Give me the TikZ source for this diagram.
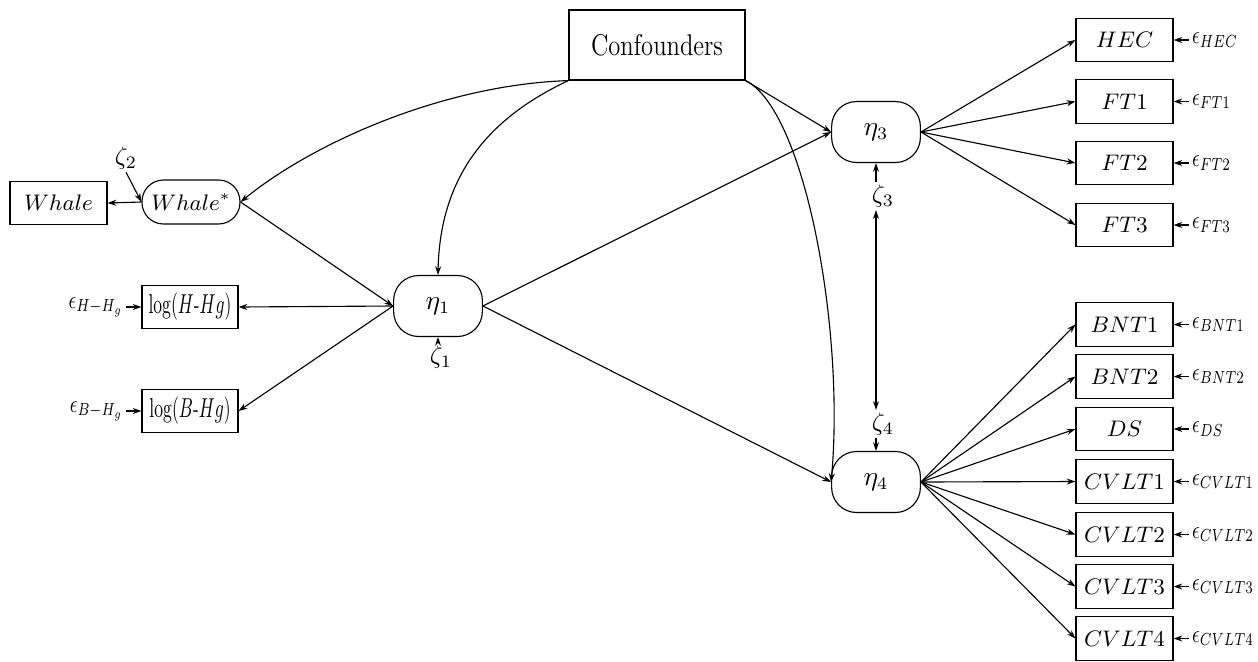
\documentclass[tikz,border=0pt]{standalone}
\usepackage{graphicx}
\usetikzlibrary{arrows.meta}
\newcommand{\sqz}[1]{\scalebox{0.76}[1]{#1}}
\begin{document}
\begin{tikzpicture}[x=0.4pt,y=-0.4pt,
  line width=0.45pt,
  arr/.style={-{Stealth[length=3.5pt,width=2.4pt]}},
  darr/.style={{Stealth[length=3.5pt,width=2.4pt]}-{Stealth[length=3.5pt,width=2.4pt]}},
  obs/.style={draw, minimum width=38.8pt, minimum height=17.4pt, inner sep=0pt, font=\fontsize{9}{10}\selectfont},
  lat/.style={draw, rounded corners=10pt, minimum width=35.5pt, minimum height=24.4pt, inner sep=0pt, font=\fontsize{10.5}{12}\selectfont},
  err/.style={inner sep=1pt, font=\fontsize{10}{12}\selectfont},
  zl/.style={inner sep=1pt, font=\fontsize{10}{12}\selectfont}]
\useasboundingbox (0,0) rectangle (1258,661);

% nodes
\node[draw, minimum width=70.4pt, minimum height=28pt, inner sep=0pt, font=\fontsize{12}{14}\selectfont] (conf) at (657,45) {\scalebox{0.82}[1]{Confounders}};
\node[obs] (whale) at (58.5,203) {$Whale$};
\node[draw, rounded corners=8.6pt, minimum width=39.2pt, minimum height=17.6pt, inner sep=0pt, font=\fontsize{9}{10}\selectfont] (whalestar) at (191,202) {$Whale^{*}$};
\node[obs, minimum width=38.4pt, minimum height=17.2pt, font=\fontsize{11}{12}\selectfont] (logH) at (190,307) {\scalebox{0.64}[1]{$\log(H\mbox{-}Hg)$}};
\node[obs, minimum width=38.4pt, minimum height=17.2pt, font=\fontsize{11}{12}\selectfont] (logB) at (190,411) {\scalebox{0.64}[1]{$\log(B\mbox{-}Hg)$}};
\node[lat] (eta1) at (438,306) {$\eta_1$};
\node[lat] (eta3) at (876,132) {$\eta_3$};
\node[lat] (eta4) at (876,482) {$\eta_4$};

\node[obs] (hec) at (1124.5,40) {$HEC$};
\node[obs] (ft1) at (1124.5,101.5) {$FT1$};
\node[obs] (ft2) at (1124.5,163) {$FT2$};
\node[obs] (ft3) at (1124.5,225) {$FT3$};
\node[obs] (bnt1) at (1124.5,324.5) {$BNT1$};
\node[obs] (bnt2) at (1124.5,376.5) {$BNT2$};
\node[obs] (ds) at (1124.5,429) {$DS$};
\node[obs] (cv1) at (1124.5,481.5) {$CVLT1$};
\node[obs] (cv2) at (1124.5,534.5) {$CVLT2$};
\node[obs] (cv3) at (1124.5,586.5) {$CVLT3$};
\node[obs] (cv4) at (1124.5,638.5) {$CVLT4$};

% error terms right
\node[err, anchor=west] (ehec) at (1189,40) {\sqz{$\epsilon_{HEC}$}};
\node[err, anchor=west] (eft1) at (1189,101.5) {\sqz{$\epsilon_{FT1}$}};
\node[err, anchor=west] (eft2) at (1189,163) {\sqz{$\epsilon_{FT2}$}};
\node[err, anchor=west] (eft3) at (1189,225) {\sqz{$\epsilon_{FT3}$}};
\node[err, anchor=west] (ebnt1) at (1189,324.5) {\sqz{$\epsilon_{BNT1}$}};
\node[err, anchor=west] (ebnt2) at (1189,376.5) {\sqz{$\epsilon_{BNT2}$}};
\node[err, anchor=west] (eds) at (1189,429) {\sqz{$\epsilon_{DS}$}};
\node[err, anchor=west] (ecv1) at (1189,481.5) {\sqz{$\epsilon_{CVLT1}$}};
\node[err, anchor=west] (ecv2) at (1189,534.5) {\sqz{$\epsilon_{CVLT2}$}};
\node[err, anchor=west] (ecv3) at (1189,586.5) {\sqz{$\epsilon_{CVLT3}$}};
\node[err, anchor=west] (ecv4) at (1189,638.5) {\sqz{$\epsilon_{CVLT4}$}};

% error terms left
\node[err, anchor=east] (eH) at (126,307) {\sqz{$\epsilon_{H-H_g}$}};
\node[err, anchor=east] (eB) at (126,411) {\sqz{$\epsilon_{B-H_g}$}};

% zetas
\node[zl] (z2) at (126,158) {$\zeta_2$};
\node[zl] (z1) at (441,357) {$\zeta_1$};
\node[zl] (z3) at (883,196) {$\zeta_3$};
\node[zl] (z4) at (883,424) {$\zeta_4$};

% connectors
\draw[arr] (conf.south west) .. controls (440,85) and (310,145) .. (whalestar.east);
\draw[arr] (conf.south west) .. controls (495,115) and (440,170) .. (eta1.north);
\draw[arr] (conf.south east) .. controls (805,110) and (845,330) .. (eta4.west);
\draw[arr] (conf.south east) -- (eta3.west);

\draw[arr] (whalestar.west) -- (whale.east);
\draw[arr] (z2.south) -- (whalestar.west);
\draw[arr] (whalestar.east) -- (eta1.west);
\draw[arr] (eta1.west) -- (logH.east);
\draw[arr] (eta1.west) -- (logB.east);
\draw[arr] (eH.east) -- (logH.west);
\draw[arr] (eB.east) -- (logB.west);
\draw[arr] (z1.north -| eta1.south) -- (eta1.south);

\draw[arr] (eta1.east) -- (eta3.west);
\draw[arr] (eta1.east) -- (eta4.west);

\draw[arr] (z3.north -| eta3.south) -- (eta3.south);
\draw[arr] (z4.south -| eta4.north) -- (eta4.north);
\draw[darr] (z3.south -| eta3.south) -- (z4.north -| eta4.north);

\foreach \b in {hec,ft1,ft2,ft3}
  \draw[arr] (eta3.east) -- (\b.west);
\foreach \b in {bnt1,bnt2,ds,cv1,cv2,cv3,cv4}
  \draw[arr] (eta4.east) -- (\b.west);

\foreach \e/\b in {ehec/hec,eft1/ft1,eft2/ft2,eft3/ft3,ebnt1/bnt1,ebnt2/bnt2,eds/ds,ecv1/cv1,ecv2/cv2,ecv3/cv3,ecv4/cv4}
  \draw[arr] (\e.west) -- (\b.east);
\end{tikzpicture}
\end{document}
